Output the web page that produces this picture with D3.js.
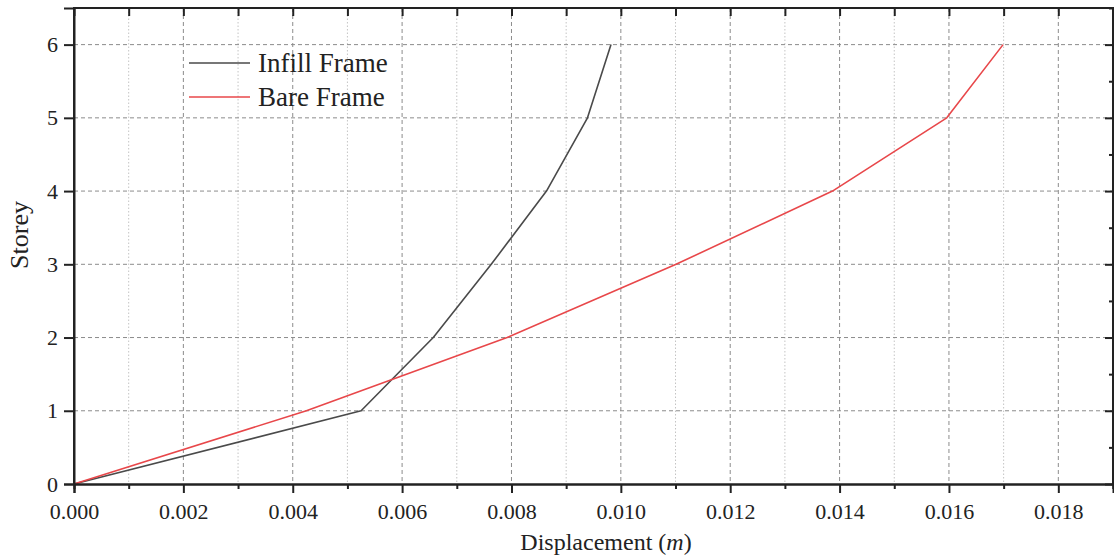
<!DOCTYPE html>
<html>
<head>
<meta charset="utf-8">
<script src="https://cdn.jsdelivr.net/npm/d3@7/dist/d3.min.js"></script>
<style>
  html, body { margin: 0; padding: 0; background: #fff; }
  svg { display: block; font-family: "Liberation Serif", "Times New Roman", serif; }
  svg text { font-family: "Liberation Serif", "Times New Roman", serif !important; }
</style>
</head>
<body>
<svg id="chart" width="1114" height="558"></svg>
<script>
// Storey levels and lateral displacement (m) for each frame type
const storeys = [0, 1, 2, 3, 4, 5, 6];
const infillFrame = [0, 0.00525, 0.00657, 0.00763, 0.00864, 0.00939, 0.00982];
const bareFrame   = [0, 0.00425, 0.00792, 0.01101, 0.01387, 0.01596, 0.01699];
const seriesNames = ["Infill Frame", "Bare Frame"];
const xTickValues = [0, 0.002, 0.004, 0.006, 0.008, 0.010, 0.012, 0.014, 0.016, 0.018];
const yTickValues = [0, 1, 2, 3, 4, 5, 6];

const svg = d3.select("#chart");
const plotLeft = 74, plotRight = 1113, plotTop = 8, plotBottom = 484;

const x = d3.scaleLinear().domain([0, 0.019]).range([plotLeft, plotRight]);
const y = d3.scaleLinear().domain([0, 6.5]).range([plotBottom, plotTop]);

const xMinor = d3.range(0, 0.0195, 0.001);
const yMinor = d3.range(0, 6.51, 0.5);

// grid lines
const grid = svg.append("g");
grid.selectAll("line.vminor")
  .data(xMinor.filter((d, i) => i % 2 === 1))
  .join("line")
  .attr("x1", d => x(d)).attr("x2", d => x(d))
  .attr("y1", plotTop).attr("y2", plotBottom)
  .attr("stroke", "#c4c4c4").attr("stroke-width", 1).attr("stroke-dasharray", "1.5,2");
grid.selectAll("line.vmajor")
  .data(xTickValues.filter(d => d > 0))
  .join("line")
  .attr("x1", d => x(d)).attr("x2", d => x(d))
  .attr("y1", plotTop).attr("y2", plotBottom)
  .attr("stroke", "#8c8c8c").attr("stroke-width", 1).attr("stroke-dasharray", "4,3");
grid.selectAll("line.hmajor")
  .data(yTickValues.filter(d => d > 0))
  .join("line")
  .attr("x1", plotLeft).attr("x2", plotRight)
  .attr("y1", d => y(d)).attr("y2", d => y(d))
  .attr("stroke", "#8c8c8c").attr("stroke-width", 1).attr("stroke-dasharray", "4,3");

// data lines
const line = d3.line().x(d => x(d[0])).y(d => y(d[1]));
const lineColors = ["#4a4a4a", "#e8474a"];
[infillFrame, bareFrame].forEach((vals, i) => {
  svg.append("path")
    .datum(vals.map((v, j) => [v, storeys[j]]))
    .attr("d", line)
    .attr("fill", "none")
    .attr("stroke", lineColors[i])
    .attr("stroke-width", 1.6)
    .attr("stroke-linejoin", "round");
});

// axes
const axisColor = "#222";

const xAxis = svg.append("g").attr("transform", `translate(0,${plotBottom})`)
  .call(d3.axisBottom(x).tickValues(xTickValues).tickFormat(d3.format(".3f")).tickSize(9).tickPadding(10));
const xMinorAxis = svg.append("g").attr("transform", `translate(0,${plotBottom})`)
  .call(d3.axisBottom(x).tickValues(xMinor.filter((d, i) => i % 2 === 1)).tickFormat("").tickSize(5));
const xTop = svg.append("g").attr("transform", `translate(0,${plotTop})`)
  .call(d3.axisBottom(x).tickValues(xMinor).tickFormat("").tickSize(8));
const yAxis = svg.append("g").attr("transform", `translate(${plotLeft},0)`)
  .call(d3.axisLeft(y).tickValues(yTickValues).tickFormat(d3.format("d")).tickSize(10).tickPadding(6));
const yRight = svg.append("g").attr("transform", `translate(${plotRight},0)`)
  .call(d3.axisLeft(y).tickValues(yTickValues).tickFormat("").tickSize(8));
const yRightMinor = svg.append("g").attr("transform", `translate(${plotRight},0)`)
  .call(d3.axisLeft(y).tickValues(yMinor.filter((d, i) => i % 2 === 1)).tickFormat("").tickSize(4));

[xAxis, xMinorAxis, xTop, yAxis, yRight, yRightMinor].forEach(g => {
  g.attr("font-family", null).attr("font-size", 22);
  g.select(".domain").attr("stroke", axisColor).attr("stroke-width", 2);
  g.selectAll(".tick line").attr("stroke", axisColor).attr("stroke-width", 2);
  g.selectAll(".tick text").attr("fill", "#222");
});
xTop.select(".domain").remove();
yRight.select(".domain").remove();
yRightMinor.select(".domain").remove();

// frame box
svg.append("path")
  .attr("d", `M${plotLeft},${plotBottom}V${plotTop}H${plotRight}V${plotBottom}`)
  .attr("fill", "none").attr("stroke", axisColor).attr("stroke-width", 2);

// axis titles
const xt = svg.append("text")
  .attr("x", 606).attr("y", 550)
  .attr("text-anchor", "middle")
  .attr("fill", "#222")
  .attr("font-size", 24);
xt.append("tspan").text("Displacement (");
xt.append("tspan").attr("font-style", "italic").text("m");
xt.append("tspan").text(")");

svg.append("text")
  .attr("transform", `translate(28,235) rotate(-90)`)
  .attr("text-anchor", "middle")
  .attr("fill", "#222")
  .attr("font-size", 26)
  .text("Storey");

// legend
const legend = svg.append("g");
seriesNames.forEach((name, i) => {
  const ly = 63 + i * 34;
  legend.append("line")
    .attr("x1", 189).attr("x2", 250).attr("y1", ly).attr("y2", ly)
    .attr("stroke", lineColors[i]).attr("stroke-width", 1.6);
  legend.append("text")
    .attr("x", 258).attr("y", ly)
    .attr("dominant-baseline", "central")
    .attr("fill", "#222")
    .attr("font-size", 27)
    .text(name);
});
</script>
</body>
</html>
